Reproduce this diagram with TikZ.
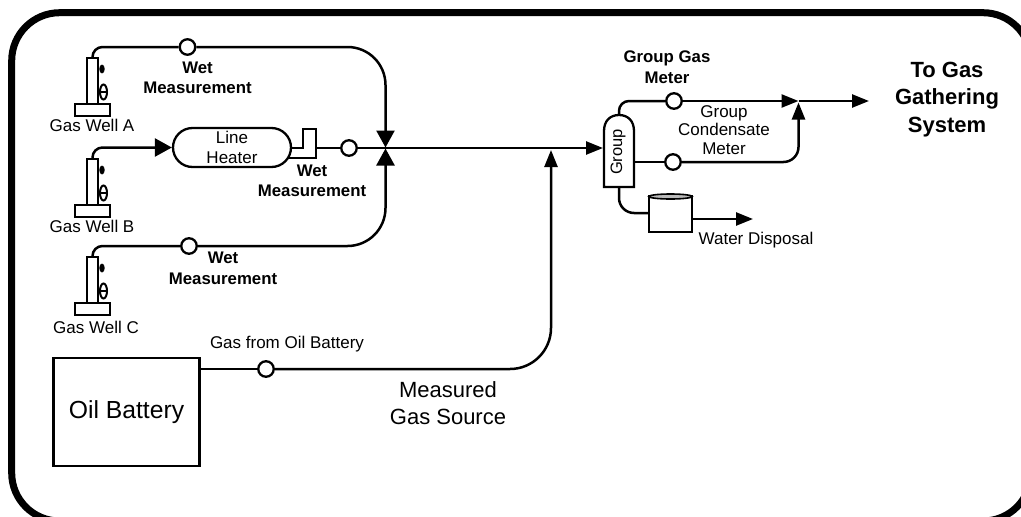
\documentclass[tikz,border=0pt]{standalone}
\usepackage{fontspec}
\setmainfont{Liberation Sans}
\usetikzlibrary{arrows.meta,calc,shapes.geometric}
\tikzset{
  x=1pt,y=-1pt,
  pipe/.style={line width=2.5pt,line join=round},
  flow/.style={pipe,-{Triangle[length=17pt,width=13pt]}},
  bigflow/.style={pipe,-{Triangle[length=17pt,width=18pt]}},
  meter/.style={circle,draw=black,line width=2.3pt,fill=white,minimum size=15.5pt,inner sep=0pt},
  equip/.style={draw=black,line width=2.3pt,fill=white,inner sep=0pt},
  lab/.style={align=center,inner sep=0pt,font=\fontsize{17}{20}\selectfont},
  blab/.style={align=center,inner sep=0pt,font=\fontsize{16.8}{20.5}\selectfont\bfseries},
  well/.pic={
    \node[equip,minimum width=11pt,minimum height=46pt,anchor=north] (-body) at (0,0) {};
    \node[equip,minimum width=35pt,minimum height=12pt,anchor=north] (-base) at (0,46) {};
    \coordinate (-s1) at (5.5,12);
    \coordinate (-s2) at (5.5,35);
    \node[draw=black,fill=black,ellipse,line width=.8pt,minimum width=4.5pt,minimum height=8pt,inner sep=0pt] (-valve) at (9.5,12) {};
    \node[draw=black,ellipse,line width=2pt,minimum width=7pt,minimum height=15pt,inner sep=0pt] (-wheel) at (11,35) {};
    \draw[line width=2pt] (-s1) -- (-valve);
    \draw[line width=2pt] (-s2) -- (-wheel.east);
  }
}
\begin{document}
\begin{tikzpicture}
\clip (0,0) rectangle (1021,517);
\fill[white] (0,0) rectangle (1021,517);
\draw[line width=7pt,rounded corners=48pt] (11.7,12.7) rectangle (1031,521);

% wells
\pic (wa) at (92.5,57) {well};
\pic (wb) at (92.5,158) {well};
\pic (wc) at (92.5,256) {well};
\node[lab] (la) at (92,125) {Gas Well A};
\node[lab] (lb) at (92,226) {Gas Well B};
\node[lab] (lc) at (96,327) {Gas Well C};

% meters
\node[meter] (m1) at (187.5,47) {};
\node[meter] (m2) at (349,148) {};
\node[meter] (m3) at (189,246) {};
\node[meter] (m4) at (266,369) {};
\node[meter] (m5) at (674,101) {};
\node[meter] (m6) at (673,162) {};

% junctions
\coordinate (jd) at (385.5,147.5);
\coordinate (ju) at (385.5,148.5);
\coordinate (j) at (385.5,148);
\coordinate (jg) at (551,150);

% heater
\node[equip,rounded corners=19.5pt,minimum width=118pt,minimum height=39pt,align=center,
  font=\fontsize{17}{20}\selectfont] (heater) at (232,147.5) {Line\\Heater};
\coordinate (h1) at (291,148);
\coordinate (h2) at (288,158);
\coordinate (h3) at (316,148);
\draw[line width=2.3pt,line join=miter] (h1) -- (303,148) -- (303,129) -- (316,129) -- (316,158) -- (h2);

% connectors left
\draw[pipe,rounded corners=10pt] (wa-body.north) |- (m1.west);
\draw[bigflow,rounded corners=38pt] (m1.east) -| (jd);
\draw[bigflow,rounded corners=10pt] (wb-body.north) |- (heater.west);
\draw[pipe] (h3) -- (m2.west);
\draw[pipe] (m2.east) -- (j);
\draw[pipe,rounded corners=10pt] (wc-body.north) |- (m3.west);
\draw[bigflow,rounded corners=38pt] (m3.east) -| (ju);

% group vessel
\coordinate (gt) at (619,115);
\coordinate (gb) at (619,187);
\coordinate (gl) at (603,148);
\coordinate (gr1) at (634,162);
\draw[equip] (604,187) -- (604,131) .. controls (604,121) and (610,115) .. (gt)
  .. controls (628,115) and (634,121) .. (634,131) -- (634,187) -- cycle;
\node[font=\fontsize{16.5}{18}\selectfont,rotate=90,inner sep=0pt] (group) at (618,152) {Group};

\draw[flow] (j) -- (gl);

% oil battery
\node[equip,minimum width=146pt,minimum height=108pt,font=\fontsize{24.7}{30}\selectfont] (oil) at (126.5,412) {Oil Battery};
\coordinate (oe) at (199.5,369);
\draw[pipe] (oe) -- (m4.west);
\draw[flow,rounded corners=41pt] (m4.east) -| (jg);

% gas outlets
\coordinate (gj) at (798.5,101);
\coordinate (gj2) at (798.5,102.5);
\coordinate (gout) at (869,101);
\draw[pipe,rounded corners=10pt] (gt) |- (m5.west);
\draw[flow] (m5.east) -- (gj);
\draw[flow] (gj) -- (gout);
\draw[pipe] (gr1) -- (m6.west);
\draw[flow,rounded corners=15pt] (m6.east) -| (gj2);

% water
\node[equip,minimum width=43pt,minimum height=36pt] (tank) at (670.5,214) {};
\node[draw=black,fill=gray!55,line width=1.6pt,ellipse,minimum width=43pt,minimum height=5pt,inner sep=0pt] (lid) at (670.5,196.5) {};
\coordinate (wi) at (649,213);
\coordinate (wo1) at (692,219);
\coordinate (wo2) at (753,219);
\draw[pipe,rounded corners=15pt] (gb) |- (wi);
\draw[flow] (wo1) -- (wo2);

% labels
\node[blab] (t1) at (197.5,78) {Wet\\Measurement};
\node[blab] (t2) at (312,181) {Wet\\Measurement};
\node[blab] (t3) at (223,268.5) {Wet\\Measurement};
\node[lab] (t4) at (287,344) {Gas from Oil Battery};
\node[align=center,inner sep=0pt,font=\fontsize{22}{27}\selectfont] (t5) at (448,403.5) {Measured\\Gas Source};
\node[blab] (t6) at (667,67) {Group Gas\\Meter};
\node[align=center,inner sep=0pt,font=\fontsize{17}{18.5}\selectfont] (t7) at (724,130) {Group\\Condensate\\Meter};
\node[lab] (t8) at (756,240) {Water Disposal};
\node[align=center,inner sep=0pt,font=\fontsize{22}{27.5}\selectfont\bfseries] (t9) at (947,99.5) {To Gas\\Gathering\\System};
\end{tikzpicture}
\end{document}
